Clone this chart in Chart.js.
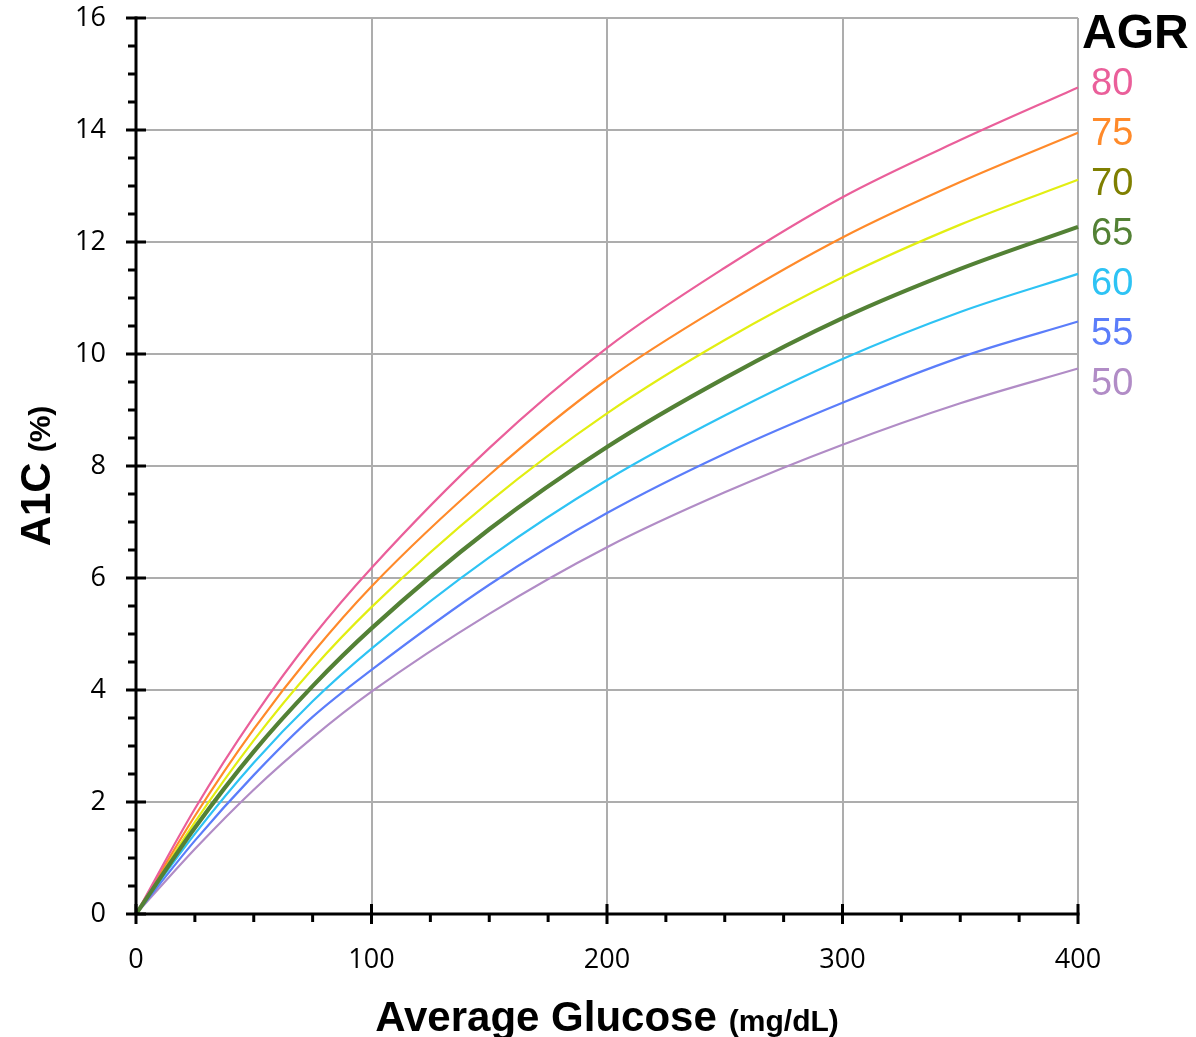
<!DOCTYPE html>
<html>
<head>
<meta charset="utf-8">
<script src="https://cdn.jsdelivr.net/npm/chart.js@4.4.1/dist/chart.umd.min.js"></script>
<style>
  html, body { margin: 0; padding: 0; background: #fff; }
  #wrap { width: 1196px; height: 1037px; position: relative; }
</style>
</head>
<body>
<div id="wrap"><canvas id="c"></canvas></div>
<script>
// 平均血糖 (mg/dL)
const glucose = [0, 25, 50, 75, 100, 150, 200, 250, 300, 350, 400];

// AGR ごとの A1C (%) — 図から読み取り
const agr80 = [0, 1.88, 3.52, 4.95, 6.18, 8.32, 10.11, 11.54, 12.80, 13.82, 14.76];
const agr75 = [0, 1.75, 3.30, 4.66, 5.85, 7.84, 9.54, 10.89, 12.08, 13.07, 13.95];
const agr70 = [0, 1.64, 3.10, 4.38, 5.48, 7.36, 8.94, 10.25, 11.37, 12.31, 13.11];
const agr65 = [0, 1.54, 2.90, 4.07, 5.10, 6.87, 8.34, 9.57, 10.64, 11.52, 12.27];
const agr60 = [0, 1.43, 2.70, 3.80, 4.74, 6.37, 7.75, 8.90, 9.91, 10.75, 11.43];
const agr55 = [0, 1.31, 2.48, 3.52, 4.36, 5.88, 7.16, 8.22, 9.13, 9.94, 10.58];
const agr50 = [0, 1.16, 2.22, 3.15, 3.97, 5.36, 6.55, 7.53, 8.38, 9.12, 9.74];

const agrNames = ["80", "75", "70", "65", "60", "55", "50"];
const xTicks = [0, 100, 200, 300, 400];
const yTicks = [0, 2, 4, 6, 8, 10, 12, 14, 16];

const series = [agr80, agr75, agr70, agr65, agr60, agr55, agr50];
const lineColors = ["#EA5F9A", "#FF8A2A", "#E2EE12", "#538135", "#2EC3F4", "#5B7DFA", "#B18CC6"];
const labelColors = ["#EA5F9A", "#FF8A2A", "#7F7F00", "#538135", "#2EC3F4", "#5B7DFA", "#B18CC6"];
const lineWidths = [2.2, 2.2, 2.2, 4.2, 2.2, 2.2, 2.2];

const datasets = series.map((vals, i) => ({
  label: agrNames[i],
  data: glucose.map((g, j) => ({ x: g, y: vals[j] })),
  borderColor: lineColors[i],
  borderWidth: lineWidths[i],
  pointRadius: 0,
  fill: false,
  cubicInterpolationMode: "monotone",
  clip: 6
}));
// 太い緑線は最前面に
datasets[3].order = -1;

const decor = {
  id: "decor",
  afterDatasetsDraw(chart) {
    const { ctx, scales: { x, y } } = chart;
    const x0 = x.getPixelForValue(0), y0 = y.getPixelForValue(0);
    ctx.save();
    ctx.strokeStyle = "#000";
    ctx.lineCap = "butt";

    // 軸線
    ctx.lineWidth = 3;
    ctx.beginPath();
    ctx.moveTo(x0, y.getPixelForValue(16) - 1.5); ctx.lineTo(x0, y0 + 1.5);
    ctx.moveTo(x0 - 1.5, y0); ctx.lineTo(x.getPixelForValue(400) + 1.5, y0);
    ctx.stroke();

    // 目盛り（主：交差、副：外側）
    ctx.beginPath();
    for (let v = 0; v <= 16; v += 0.5) {
      const py = y.getPixelForValue(v);
      if (v % 2 === 0) { ctx.moveTo(x0 - 10, py); ctx.lineTo(x0 + 10, py); }
      else { ctx.moveTo(x0 - 8, py); ctx.lineTo(x0, py); }
    }
    for (let v = 0; v <= 400; v += 25) {
      const px = x.getPixelForValue(v);
      if (v % 100 === 0) { ctx.moveTo(px, y0 - 10); ctx.lineTo(px, y0 + 10); }
      else { ctx.moveTo(px, y0); ctx.lineTo(px, y0 + 8); }
    }
    ctx.stroke();

    // 目盛りラベル
    ctx.fillStyle = "#000";
    ctx.font = "27px 'Open Sans'";
    ctx.textAlign = "right"; ctx.textBaseline = "middle";
    yTicks.forEach(t => ctx.fillText(String(t), 106, y.getPixelForValue(t)));
    ctx.textAlign = "center";
    xTicks.forEach(t => ctx.fillText(String(t), x.getPixelForValue(t), 960));

    // X軸タイトル
    ctx.textAlign = "left"; ctx.textBaseline = "alphabetic";
    const big = "bold 42px 'Liberation Sans'", small = "bold 30px 'Liberation Sans'";
    ctx.font = big;
    const t1 = "Average Glucose";
    const w1 = ctx.measureText(t1).width + 12;
    ctx.font = small;
    const t2 = "(mg/dL)";
    const w2 = ctx.measureText(t2).width;
    const xs = (x0 + x.getPixelForValue(400)) / 2 - (w1 + w2) / 2;
    ctx.font = big;
    ctx.fillText(t1, xs, 1031);
    ctx.font = small;
    ctx.fillText(t2, xs + w1, 1031);

    // Y軸タイトル
    ctx.save();
    ctx.translate(50, 476);
    ctx.rotate(-Math.PI / 2);
    ctx.font = big;
    const a1 = "A1C";
    const wa = ctx.measureText(a1).width + 10;
    ctx.font = small;
    const a2 = "(%)";
    const wb = ctx.measureText(a2).width;
    ctx.font = big;
    ctx.fillText(a1, -(wa + wb) / 2, 0);
    ctx.font = small;
    ctx.fillText(a2, -(wa + wb) / 2 + wa, 0);
    ctx.restore();

    // 凡例 AGR
    ctx.textAlign = "left"; ctx.textBaseline = "middle";
    ctx.font = "bold 48px 'Liberation Sans'";
    ctx.fillStyle = "#000";
    ctx.fillText("AGR", 1082, 35);
    ctx.font = "38px 'Liberation Sans'";
    agrNames.forEach((n, i) => {
      ctx.fillStyle = labelColors[i];
      ctx.fillText(n, 1091, 85 + i * 50);
    });
    ctx.restore();
  }
};

new Chart(document.getElementById("c"), {
  type: "line",
  data: { datasets },
  options: {
    responsive: true,
    maintainAspectRatio: false,
    animation: false,
    layout: { padding: { left: 136, right: 118, top: 18, bottom: 123 } },
    plugins: { legend: { display: false }, tooltip: { enabled: false } },
    scales: {
      x: {
        type: "linear", min: 0, max: 400,
        ticks: { display: false, stepSize: 100 },
        grid: { color: "#ADADAD", lineWidth: 2, drawTicks: false },
        border: { display: false }
      },
      y: {
        type: "linear", min: 0, max: 16,
        ticks: { display: false, stepSize: 2 },
        grid: { color: "#ADADAD", lineWidth: 2, drawTicks: false },
        border: { display: false }
      }
    }
  },
  plugins: [decor]
});
</script>
</body>
</html>
